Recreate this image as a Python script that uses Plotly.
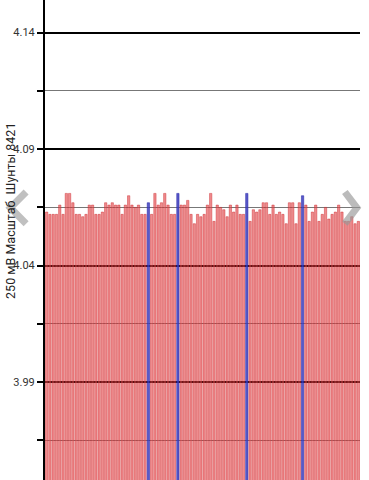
import plotly.graph_objects as go

values = [4.063, 4.062, 4.062, 4.062, 4.066, 4.062, 4.071, 4.071, 4.067, 4.062,
          4.062, 4.061, 4.062, 4.066, 4.066, 4.062, 4.062, 4.063, 4.067, 4.066,
          4.067, 4.066, 4.066, 4.062, 4.066, 4.070, 4.066, 4.065, 4.066, 4.062,
          4.062, 4.067, 4.062, 4.071, 4.066, 4.067, 4.071, 4.066, 4.062, 4.062,
          4.071, 4.066, 4.066, 4.068, 4.062, 4.058, 4.062, 4.061, 4.062, 4.066,
          4.071, 4.059, 4.066, 4.065, 4.064, 4.061, 4.066, 4.063, 4.066, 4.062,
          4.062, 4.071, 4.059, 4.064, 4.063, 4.064, 4.067, 4.067, 4.062, 4.066,
          4.062, 4.063, 4.062, 4.058, 4.067, 4.067, 4.058, 4.067, 4.070, 4.066,
          4.059, 4.063, 4.066, 4.059, 4.062, 4.065, 4.060, 4.062, 4.063, 4.066,
          4.063, 4.059, 4.059, 4.061, 4.058, 4.059]
blue_idx = [31, 40, 61, 78]
major_ticks = [3.99, 4.04, 4.09, 4.14]
major_labels = ["3.99", "4.04", "4.09", "4.14"]
minor_ticks = [3.965, 4.015, 4.065, 4.115]
y_title = "250 мВ Масштаб  Шунты 8421"

x = list(range(len(values)))
fill = ["rgba(60,60,190,0.85)" if i in blue_idx else "rgba(228,70,72,0.62)" for i in x]
edge = ["rgba(40,40,170,0.9)" if i in blue_idx else "rgba(205,40,45,0.75)" for i in x]

fig = go.Figure(go.Bar(x=x, y=values, marker=dict(color=fill, line=dict(color=edge, width=0.6))))

fig.update_layout(
    width=369, height=480,
    margin=dict(l=45, r=9, t=0, b=0, pad=0),
    paper_bgcolor="white", plot_bgcolor="white",
    bargap=0.3, showlegend=False,
    font=dict(family="Roboto", size=11, color="#333333"),
    xaxis=dict(range=[-0.5, len(values) - 0.5], showticklabels=False, showgrid=False,
               zeroline=False, showline=False, ticks="", automargin=False),
    yaxis=dict(range=[3.948, 4.154], tickvals=major_ticks, ticktext=major_labels,
               ticks="outside", ticklen=6, tickwidth=1.5, tickcolor="black",
               showline=True, linecolor="black", linewidth=2, automargin=False,
               showgrid=True, gridcolor="black", gridwidth=1.5, zeroline=False,
               tickfont=dict(size=11, color="#333333"),
               minor=dict(tickvals=minor_ticks, ticks="outside", ticklen=6, tickwidth=1.5,
                          tickcolor="black", showgrid=True, gridcolor="#777777", gridwidth=1)),
)

fig.add_annotation(text=y_title, xref="paper", yref="paper", x=-0.112, y=0.56,
                   textangle=-90, showarrow=False, xanchor="center", yanchor="middle",
                   font=dict(size=12.5, color="#222222", family="Roboto"))

# navigation chevrons overlay
fig.add_shape(type="path", xref="paper", yref="paper",
              path="M 0.952 0.6 L 0.99 0.567 L 0.952 0.534",
              line=dict(color="rgba(150,150,150,0.65)", width=7))
fig.add_shape(type="path", xref="paper", yref="paper",
              path="M -0.06 0.6 L -0.11 0.567 L -0.06 0.534",
              line=dict(color="rgba(150,150,150,0.6)", width=7))

fig.write_html("out.html", config={"displayModeBar": False},
               post_script="document.body.style.margin='0';document.body.style.overflow='hidden';")
